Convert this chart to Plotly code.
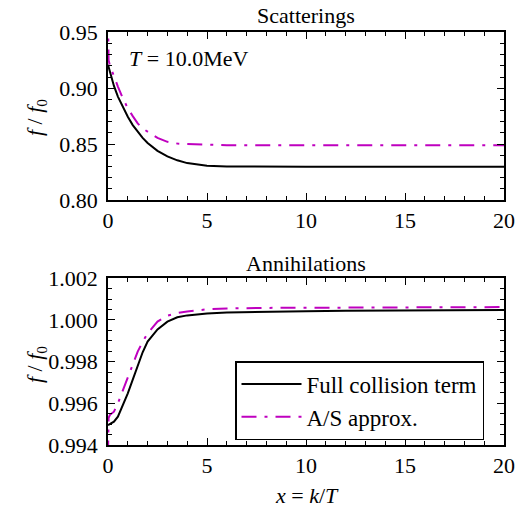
import plotly.graph_objects as go

# ---- data ----
x_full_sc = [0, 0.1, 0.3, 0.5, 0.75, 1.0, 1.25, 1.5, 1.75, 2.0, 2.5, 3.0, 3.5, 4.0, 5.0, 6.0, 8.0, 10, 15, 20]
y_full_sc = [0.921, 0.914, 0.902, 0.8925, 0.883, 0.8745, 0.867, 0.861, 0.8555, 0.851, 0.844, 0.839, 0.8355,
             0.833, 0.8307, 0.8300, 0.8298, 0.8298, 0.8298, 0.8298]

x_as_sc = [0, 0.03, 0.1, 0.3, 0.5, 0.75, 1.0, 1.25, 1.5, 1.75, 2.0, 2.5, 3.0, 3.5, 4.0, 5.0, 6.0, 8.0, 10, 15, 20]
y_as_sc = [0.965, 0.925, 0.920, 0.910, 0.9015, 0.891, 0.882, 0.875, 0.8685, 0.864, 0.861, 0.8555, 0.852, 0.8505,
           0.850, 0.8492, 0.8490, 0.8489, 0.8489, 0.8489, 0.8489]

x_full_an = [0, 0.1, 0.3, 0.5, 0.75, 1.0, 1.25, 1.5, 1.75, 2.0, 2.5, 3.0, 3.5, 4.0, 5.0, 6.0, 8.0, 10, 12, 15, 20]
y_full_an = [0.99495, 0.99501, 0.99512, 0.99536, 0.9959, 0.99648, 0.99714, 0.99784, 0.99845, 0.99896, 0.99955,
             0.99992, 1.00013, 1.00022, 1.00031, 1.00036, 1.00040, 1.00042, 1.00044, 1.00046, 1.00048]

x_as_an = [0, 0.03, 0.1, 0.3, 0.5, 0.75, 1.0, 1.25, 1.5, 1.75, 2.0, 2.5, 3.0, 3.5, 4.0, 5.0, 6.0, 8.0, 10, 15, 20]
y_as_an = [0.9935, 0.9953, 0.99545, 0.9956, 0.9960, 0.99662, 0.99728, 0.9979, 0.99848, 0.99895, 0.99936, 0.99992,
           1.00021, 1.00033, 1.00041, 1.00051, 1.00055, 1.00058, 1.00059, 1.00061, 1.00062]

names = ["Full collision term", "A/S approx."]
panel_titles = ["Scatterings", "Annihilations"]

W, H = 515, 507
FONT = "Liberation Serif"
FS = 22
MAG = "#bf00bf"
DASH = "15px,8px,3px,8px"

fig = go.Figure()
fig.add_trace(go.Scatter(x=x_full_sc, y=y_full_sc, mode="lines", line=dict(color="black", width=2),
                         xaxis="x", yaxis="y", showlegend=False))
fig.add_trace(go.Scatter(x=x_as_sc, y=y_as_sc, mode="lines", line=dict(color=MAG, width=2, dash=DASH),
                         xaxis="x", yaxis="y", showlegend=False))
fig.add_trace(go.Scatter(x=x_full_an, y=y_full_an, mode="lines", line=dict(color="black", width=2),
                         xaxis="x2", yaxis="y2", name=names[0], legendgroup="a"))
fig.add_trace(go.Scatter(x=x_as_an, y=y_as_an, mode="lines", line=dict(color=MAG, width=2, dash=DASH),
                         xaxis="x2", yaxis="y2", name=names[1], legendgroup="b"))

x0, x1 = 108 / W, 504 / W
top_dom = [1 - 200 / H, 1 - 32.3 / H]
bot_dom = [1 - 445 / H, 1 - 278.3 / H]

common_axis = dict(showline=True, linecolor="black", linewidth=1.5, mirror="allticks", ticks="inside",
                   ticklen=7, tickwidth=1, tickcolor="black", showgrid=False, zeroline=False,
                   automargin=False,
                   tickfont=dict(family=FONT, size=FS, color="black"))

fig.update_layout(
    template="none",
    width=W, height=H, margin=dict(l=0, r=0, t=0, b=0),
    plot_bgcolor="white", paper_bgcolor="white",
    font=dict(family=FONT, size=FS, color="black"),
    xaxis=dict(domain=[x0, x1], range=[0, 20], dtick=5, anchor="y",
               minor=dict(dtick=1, ticks="inside", ticklen=4, tickcolor="black", showgrid=False),
               **common_axis),
    yaxis=dict(domain=top_dom, range=[0.80, 0.95], dtick=0.05, tickformat=".2f", anchor="x",
               minor=dict(dtick=0.01, ticks="inside", ticklen=4, tickcolor="black", showgrid=False),
               ticklabelstandoff=4, **common_axis),
    xaxis2=dict(domain=[x0, x1], range=[0, 20], dtick=5, anchor="y2",
                minor=dict(dtick=1, ticks="inside", ticklen=4, tickcolor="black", showgrid=False),
                **common_axis),
    yaxis2=dict(domain=bot_dom, range=[0.994, 1.002], dtick=0.002, tickformat=".3f", anchor="x2",
                minor=dict(dtick=0.0005, ticks="inside", ticklen=4, tickcolor="black", showgrid=False),
                ticklabelstandoff=4, **common_axis),
    legend=dict(x=235 / W, y=1 - 361 / H, xanchor="left", yanchor="top", bgcolor="white",
                bordercolor="black", borderwidth=1.5, font=dict(family=FONT, size=23, color="black"),
                tracegroupgap=0, itemwidth=60),
    showlegend=True,
)

ann_font = dict(family=FONT, size=FS, color="black")
fig.add_annotation(text=panel_titles[0], x=306 / W, y=1 - 15 / H, xref="paper", yref="paper",
                   showarrow=False, font=ann_font, xanchor="center", yanchor="middle")
fig.add_annotation(text=panel_titles[1], x=306 / W, y=1 - 263 / H, xref="paper", yref="paper",
                   showarrow=False, font=ann_font, xanchor="center", yanchor="middle")
fig.add_annotation(text="<i>T</i> = 10.0MeV", x=127 / W, y=1 - 58 / H, xref="paper", yref="paper",
                   showarrow=False, font=ann_font, xanchor="left", yanchor="middle")
for yc in (118, 365):
    fig.add_annotation(text="<i>f</i> / <i>f</i><sub>0</sub>", x=36 / W, y=1 - yc / H, xref="paper",
                       yref="paper", showarrow=False, font=ann_font, textangle=-90,
                       xanchor="center", yanchor="middle")
fig.add_annotation(text="<i>x</i> = <i>k</i>/<i>T</i>", x=307 / W, y=1 - 495 / H, xref="paper",
                   yref="paper", showarrow=False, font=ann_font, xanchor="center", yanchor="middle")

fig.write_html("out.html")
